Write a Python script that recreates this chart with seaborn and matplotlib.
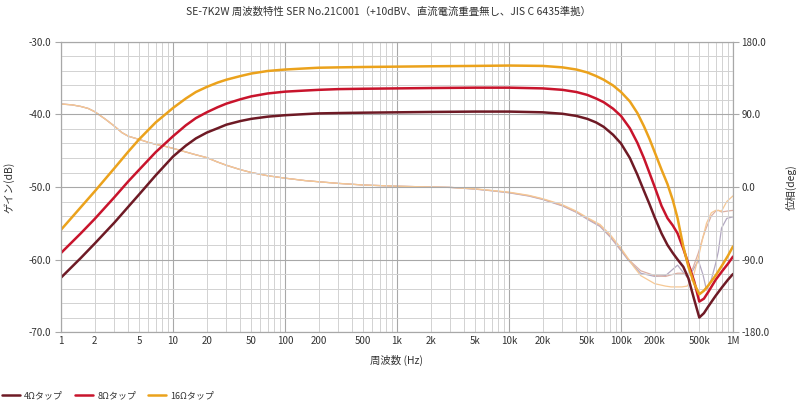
import math
import matplotlib.pyplot as plt
import pandas as pd
import seaborn as sns
from matplotlib.lines import Line2D
from matplotlib.ticker import LogLocator, MultipleLocator, FuncFormatter, NullLocator

# Gain readings (dB, left axis)
freq_gain = [1, 1.5, 2, 3, 4, 5, 7, 10, 13, 16, 20, 25, 30, 40, 50, 70, 100, 150,
             200, 300, 500, 1e3, 2e3, 5e3, 1e4, 2e4, 3e4, 4e4, 5e4, 6e4, 7e4, 8.5e4,
             1e5, 1.2e5, 1.4e5, 1.6e5, 1.8e5, 2e5, 2.3e5, 2.6e5, 2.9e5, 3.2e5, 3.6e5,
             4e5, 4.5e5, 5e5, 5.5e5, 6e5, 7e5, 8e5, 9e5, 1e6]
gain_4 = [-62.5, -59.8, -57.8, -54.9, -52.7, -51.0, -48.4, -45.8, -44.3, -43.3,
          -42.5, -41.9, -41.4, -40.9, -40.6, -40.3, -40.1, -39.95, -39.85, -39.8,
          -39.75, -39.7, -39.65, -39.6, -39.6, -39.7, -39.9, -40.2, -40.6, -41.1,
          -41.7, -42.8, -44.0, -46.0, -48.3, -50.5, -52.4, -54.2, -56.4, -58.0,
          -59.1, -60.0, -61.0, -62.6, -65.5, -68.0, -67.4, -66.5, -65.0, -63.8,
          -62.8, -62.0]
gain_8 = [-59.1, -56.4, -54.4, -51.4, -49.2, -47.6, -45.2, -43.0, -41.5, -40.5,
          -39.7, -39.0, -38.5, -37.9, -37.5, -37.1, -36.85, -36.7, -36.6, -36.5,
          -36.45, -36.4, -36.35, -36.3, -36.3, -36.4, -36.6, -36.9, -37.3, -37.8,
          -38.3, -39.2, -40.2, -41.9, -43.9, -46.0, -48.1, -50.0, -52.6, -54.3,
          -55.3, -56.4, -58.5, -60.6, -63.0, -65.8, -65.4, -64.5, -62.8, -61.6,
          -60.6, -59.6]
gain_16 = [-55.9, -52.8, -50.6, -47.4, -45.1, -43.4, -41.1, -39.1, -37.8, -36.9,
           -36.2, -35.6, -35.2, -34.7, -34.35, -34.0, -33.8, -33.65, -33.55, -33.5,
           -33.45, -33.4, -33.35, -33.3, -33.25, -33.3, -33.5, -33.8, -34.2, -34.7,
           -35.2, -36.0, -36.9, -38.2, -39.8, -41.6, -43.4, -45.2, -47.6, -49.6,
           -51.8, -54.3, -58.2, -61.0, -63.3, -64.8, -64.3, -63.6, -62.2, -60.8,
           -59.5, -58.2]

# Phase readings (deg, right axis)
freq_phase = [1, 1.25, 1.5, 1.75, 2, 2.5, 3, 3.5, 4, 5, 6, 7, 8.5, 10, 13, 16, 20,
              25, 30, 40, 50, 70, 100, 150, 200, 300, 500, 1e3, 2e3, 3e3, 5e3, 7e3,
              1e4, 1.5e4, 2e4, 3e4, 4e4, 5e4, 6.5e4, 8e4, 1e5, 1.15e5,
              1.3e5, 1.5e5, 2e5, 2.5e5, 2.8e5, 3.2e5, 3.5e5, 3.9e5, 4.4e5, 4.9e5,
              5.4e5, 5.8e5, 6.4e5, 7e5, 7.4e5, 7.9e5, 8.8e5, 1e6]
phase_4 = [103, 102, 100, 97.5, 93.5, 84, 75.5, 67.5, 63, 59, 55.5, 53, 50.5, 48,
           43.5, 40, 36.5, 31, 27, 21.5, 18, 14, 11, 8, 6.5, 4.5, 2.5, 1, 0, -0.5,
           -2.7, -4.7, -7.2, -11.2, -15.5, -23.5, -31.5, -40, -49, -62, -79, -90,
           -98, -107, -111, -110, -104, -97, -104, -112, -103, -91,
           -109, -128, -115, -95, -80, -51, -39, -37]
phase_8 = [103, 102, 100, 97.5, 93.5, 84, 75.5, 67.5, 63, 59, 55.5, 53, 50.5, 48,
           43.5, 40, 36.5, 31, 27, 21.5, 18, 14, 11, 8, 6.5, 4.5, 2.5, 1, 0, -0.5,
           -2.5, -4.5, -6.8, -10.8, -15, -23, -31, -39, -48, -61, -78, -89,
           -96, -104, -110, -111, -109, -107, -107, -109, -100, -82,
           -62, -50, -36, -30, -29, -31, -30, -29]
phase_16 = [103, 102, 100, 97.5, 93.5, 84, 75.5, 67.5, 63, 59, 55.5, 53, 50.5, 48,
            43.5, 40, 36.5, 31, 27, 21.5, 18, 14, 11, 8, 6.5, 4.5, 2.5, 1, 0, -0.5,
            -2.3, -4.2, -6.4, -10.3, -14.5, -22, -30, -38, -46.5, -59, -76, -88,
            -99, -110, -120, -123, -124, -124, -124, -123, -112, -88,
            -62, -45, -32, -29, -29, -30, -18, -11]

taps = ["4Ωタップ", "8Ωタップ", "16Ωタップ"]
gain_colors = ["#6e1a25", "#c8142c", "#eba21c"]
phase_colors = ["#b3a9c2", "#dcb0a4", "#f6c894"]

df_gain = pd.concat([pd.DataFrame({"freq": freq_gain, "value": g, "tap": t})
                     for g, t in zip([gain_4, gain_8, gain_16], taps)])
df_phase = pd.concat([pd.DataFrame({"freq": freq_phase, "value": p, "tap": t})
                      for p, t in zip([phase_4, phase_8, phase_16], taps)])

sns.set_style("white")
plt.rcParams['font.family'] = ['Noto Sans CJK JP', 'DejaVu Sans']

fig = plt.figure(figsize=(8, 4.01), dpi=100)
ax = fig.add_axes([0.07625, 0.172, 0.84, 0.7233])
ax2 = ax.twinx()
ax.set_zorder(ax2.get_zorder() + 1)
ax.patch.set_visible(False)

sns.lineplot(data=df_phase, x="freq", y="value", hue="tap", palette=phase_colors,
             linewidth=0.9, ax=ax2, legend=False, sort=False)
sns.lineplot(data=df_gain, x="freq", y="value", hue="tap", palette=gain_colors,
             linewidth=1.8, ax=ax, legend=False, sort=False)

ax.set_xscale("log")
ax.set_xlim(1, 1e6)
ax.set_ylim(-70, -30)
ax2.set_ylim(-180, 180)


def freq_label(v, pos=None):
    # only 1-2-5 steps inside the 1 Hz .. 1 MHz range get a label
    if v < 0.999 or v > 1.001e6:
        return ""
    lead = round(v / 10 ** math.floor(math.log10(v) + 1e-9))
    if lead not in (1, 2, 5):
        return ""
    if v >= 1e6:
        return f"{v / 1e6:g}M"
    if v >= 1e3:
        return f"{v / 1e3:g}k"
    return f"{v:g}"


ax.xaxis.set_major_locator(LogLocator(base=10, numticks=10))
ax.xaxis.set_minor_locator(LogLocator(base=10, subs=range(2, 10), numticks=100))
ax.xaxis.set_major_formatter(FuncFormatter(freq_label))
ax.xaxis.set_minor_formatter(FuncFormatter(freq_label))
ax.yaxis.set_major_locator(MultipleLocator(10))
ax.yaxis.set_minor_locator(MultipleLocator(2))
ax.yaxis.set_major_formatter(FuncFormatter(lambda v, p: f"{v:.1f}"))
ax2.yaxis.set_major_locator(MultipleLocator(90))
ax2.yaxis.set_minor_locator(NullLocator())
ax2.yaxis.set_major_formatter(FuncFormatter(lambda v, p: f"{v:.1f}"))

ax.grid(True, which="major", color="#a8a8a8", linewidth=0.8)
ax.grid(True, which="minor", color="#d2d2d2", linewidth=0.7)
ax2.grid(False)

for a in (ax, ax2):
    for s in a.spines.values():
        s.set_color("#a8a8a8")
        s.set_linewidth(0.8)

ax.tick_params(axis="both", which="both", labelsize=7, colors="#333333",
               length=0, pad=3)
ax.tick_params(axis="y", which="major", length=4, color="#a8a8a8")
ax2.tick_params(axis="y", labelsize=7, colors="#333333", length=4, color="#a8a8a8", pad=2)

ax.set_xlabel("周波数 (Hz)", fontsize=7.5, color="#333333", labelpad=6)
ax.set_ylabel("ゲイン(dB)", fontsize=7.5, color="#333333", labelpad=10)
ax2.set_ylabel("位相(deg)", fontsize=7.5, color="#333333", labelpad=12)

fig.text(0.485, 0.97, "SE-7K2W 周波数特性 SER No.21C001（+10dBV、直流電流重畳無し、JIS C 6435準拠）",
         ha="center", va="center", fontsize=7.5, color="#333333")

handles = [Line2D([0], [0], color=c, linewidth=1.8) for c in gain_colors]
fig.legend(handles, taps, loc="lower left", bbox_to_anchor=(-0.008, -0.018), ncol=3,
           frameon=False, fontsize=6.5, handlelength=2.0, columnspacing=1.3,
           handletextpad=0.5, labelcolor="#333333")

fig.savefig("out.png", dpi=100)
